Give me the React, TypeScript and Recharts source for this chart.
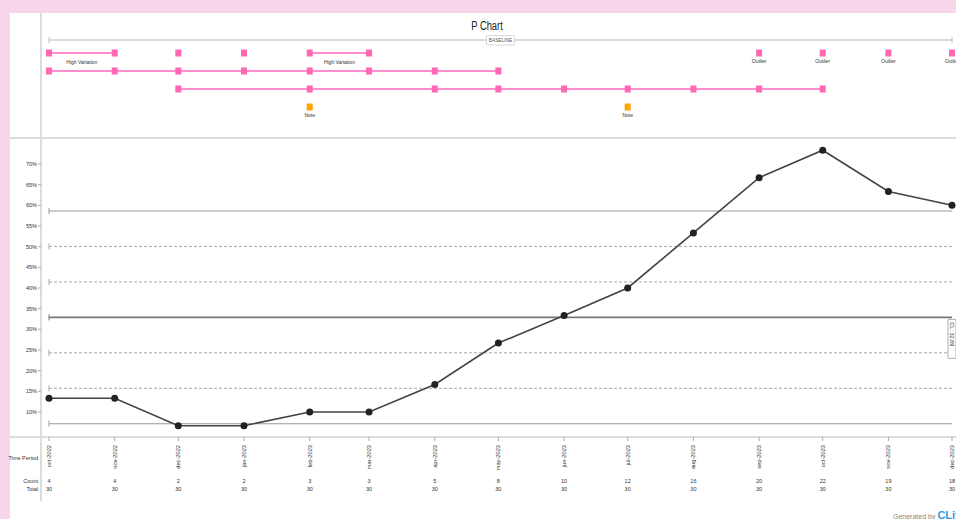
import React from 'react'
import { ComposedChart, Line, Scatter, XAxis, YAxis, ReferenceLine } from 'recharts'

// time periods of the P chart (monthly samples)
const periods = [
  'oct-2022', 'nov-2022', 'dec-2022', 'jan-2023', 'feb-2023', 'mar-2023', 'apr-2023', 'may-2023',
  'jun-2023', 'jul-2023', 'aug-2023', 'sep-2023', 'oct-2023', 'nov-2023', 'dec-2023',
]
const periodStarts = [
  '2022-10-01', '2022-11-01', '2022-12-01', '2023-01-01', '2023-02-01', '2023-03-01', '2023-04-01',
  '2023-05-01', '2023-06-01', '2023-07-01', '2023-08-01', '2023-09-01', '2023-10-01', '2023-11-01',
  '2023-12-01',
]
const counts = [4, 4, 2, 2, 3, 3, 5, 8, 10, 12, 16, 20, 22, 19, 18]
const totals = [30, 30, 30, 30, 30, 30, 30, 30, 30, 30, 30, 30, 30, 30, 30]
const proportions = [13.33, 13.33, 6.67, 6.67, 10, 10, 16.67, 26.67, 33.33, 40, 53.33, 66.67, 73.33, 63.33, 60]

const yTicks = [10, 15, 20, 25, 30, 35, 40, 45, 50, 55, 60, 65, 70]

const centerLine = 32.89
const limitLines = [58.62, 7.16]
const sigmaLines = [50.05, 41.47, 24.31, 15.73]

// annotation rows above the chart
const row1Markers = ['oct-2022', 'nov-2022', 'dec-2022', 'jan-2023', 'feb-2023', 'mar-2023']
const outlierMarkers = ['sep-2023', 'oct-2023', 'nov-2023', 'dec-2023']
const row2Markers = ['oct-2022', 'nov-2022', 'dec-2022', 'jan-2023', 'feb-2023', 'mar-2023', 'apr-2023', 'may-2023']
const row3Markers = ['dec-2022', 'feb-2023', 'apr-2023', 'may-2023', 'jun-2023', 'jul-2023', 'aug-2023', 'sep-2023', 'oct-2023']
const noteMarkers = ['feb-2023', 'jul-2023']
const annotationSegments = [
  { row: 1, from: 'oct-2022', to: 'nov-2022', label: 'High Variation' },
  { row: 1, from: 'feb-2023', to: 'mar-2023', label: 'High Variation' },
  { row: 2, from: 'oct-2022', to: 'may-2023', label: '' },
  { row: 3, from: 'dec-2022', to: 'oct-2023', label: '' },
]
const baselineRow = 0.28

const FONT = "'Liberation Sans', Arial, sans-serif"
const PINK = '#ff69b4'
const PINK_LINE = '#ff8fcc'
const ORANGE = '#ffa500'

const times = periodStarts.map((d) => Date.parse(d))
const timeOf = (p: string) => times[periods.indexOf(p)]
const first = times[0]
const last = times[times.length - 1]

const chartData = periods.map((period, i) => ({
  x: times[i],
  period,
  p: proportions[i],
  count: counts[i],
  total: totals[i],
}))

const markers = (list: string[], row: number) => list.map((p) => ({ x: timeOf(p), y: row }))

function PeriodTick(props: any) {
  const { x, y, index } = props
  const i = index as number
  const top = y + 2
  return (
    <g fontFamily={FONT} fill="#333">
      <text
        x={x}
        y={top}
        transform={`rotate(-90, ${x}, ${top})`}
        textAnchor="end"
        dy="0.35em"
        fontSize={5.7}
      >
        {periods[i]}
      </text>
      <text x={x} y={y + 40} textAnchor="middle" fontSize={5.5}>{counts[i]}</text>
      <text x={x} y={y + 48} textAnchor="middle" fontSize={5.5}>{totals[i]}</text>
      {i === 0 && (
        <g textAnchor="end" fontSize={5.5}>
          <text x={x - 11} y={y + 17}>Time Period</text>
          <text x={x - 11} y={y + 40}>Count</text>
          <text x={x - 11} y={y + 48}>Total</text>
        </g>
      )}
    </g>
  )
}

function ControlShape(props: any) {
  const { x1, y1, x2, y2, stroke, strokeWidth, strokeDasharray, label } = props
  return (
    <g>
      <line x1={x1} y1={y1} x2={x2} y2={y2} stroke={stroke} strokeWidth={strokeWidth} strokeDasharray={strokeDasharray} />
      <line x1={x1} y1={y1 - 3} x2={x1} y2={y1 + 3} stroke={stroke} strokeWidth={1} />
      {label && (
        <g>
          <rect x={x2 - 4} y={y1 + 2} width={8} height={39} fill="#fff" stroke="#888" strokeWidth={0.7} rx={1} />
          <text
            x={x2}
            y={y1 + 5}
            transform={`rotate(90, ${x2}, ${y1 + 5})`}
            dy="0.35em"
            fontSize={5.5}
            fontFamily={FONT}
            fill="#333"
          >
            {label}
          </text>
        </g>
      )}
    </g>
  )
}

function SegmentShape(props: any) {
  const { x1, y1, x2, y2, label } = props
  return (
    <g>
      <line x1={x1} y1={y1} x2={x2} y2={y2} stroke={PINK_LINE} strokeWidth={2} />
      {label && (
        <text x={(x1 + x2) / 2} y={y1 + 11} textAnchor="middle" fontSize={5} fontFamily={FONT} fill="#333">
          {label}
        </text>
      )}
    </g>
  )
}

function BaselineShape(props: any) {
  const { x1, y1, x2, y2 } = props
  const cx = (x1 + x2) / 2
  return (
    <g>
      <line x1={x1} y1={y1} x2={x2} y2={y2} stroke="#cfcfcf" strokeWidth={1.5} />
      <line x1={x1} y1={y1 - 3} x2={x1} y2={y1 + 3} stroke="#bbb" strokeWidth={1} />
      <line x1={x2} y1={y1 - 3} x2={x2} y2={y1 + 3} stroke="#bbb" strokeWidth={1} />
      <rect x={cx - 14} y={y1 - 4.5} width={28} height={9.5} fill="#fff" stroke="#ccc" strokeWidth={0.8} rx={1} />
      <text x={cx} y={y1} dy="0.35em" textAnchor="middle" fontSize={4.8} fontFamily={FONT} fill="#555">
        BASELINE
      </text>
    </g>
  )
}

const square = (color: string, label?: string) => (props: any) => {
  const { cx, cy } = props
  return (
    <g>
      <rect x={cx - 3} y={cy - 3.5} width={6} height={7} fill={color} />
      {label && (
        <text x={cx} y={cy + 10} textAnchor="middle" fontSize={5} fontFamily={FONT} fill="#333">
          {label}
        </text>
      )}
    </g>
  )
}

export default function App() {
  return (
    <div
      style={{
        position: 'fixed',
        left: 0,
        top: 0,
        width: 956,
        height: 519,
        overflow: 'hidden',
        background: '#f8d6ea',
        fontFamily: FONT,
      }}
    >
      <div style={{ position: 'absolute', left: 10, top: 13, right: 0, bottom: 0, background: '#fff' }} />
      <div style={{ position: 'absolute', left: 40, top: 13, width: 1.5, height: 488, background: '#dcdcdc' }} />
      <div style={{ position: 'absolute', left: 10, top: 137, right: 0, height: 1.5, background: '#dcdcdc' }} />
      <div style={{ position: 'absolute', left: 10, top: 436, right: 0, height: 1.5, background: '#dcdcdc' }} />
      <div
        style={{
          position: 'absolute',
          left: 437,
          top: 19,
          width: 100,
          textAlign: 'center',
          fontSize: 12,
          color: '#222',
          transform: 'scaleX(0.78)',
        }}
      >
        P Chart
      </div>

      <div style={{ position: 'absolute', left: 0, top: 0 }}>
        <ComposedChart width={956} height={138} margin={{ top: 44, right: 0, bottom: 22, left: 41 }}>
          <XAxis type="number" dataKey="x" domain={[first, last]} padding={{ left: 8, right: 4 }} hide />
          <YAxis type="number" dataKey="y" domain={[0.5, 4.5]} reversed hide />
          <ReferenceLine
            segment={[{ x: first, y: baselineRow }, { x: last, y: baselineRow }]}
            ifOverflow="visible"
            shape={(p: any) => <BaselineShape {...p} />}
          />
          {annotationSegments.map((s, i) => (
            <ReferenceLine
              key={`seg-${i}`}
              segment={[{ x: timeOf(s.from), y: s.row }, { x: timeOf(s.to), y: s.row }]}
              ifOverflow="visible"
              shape={(p: any) => <SegmentShape {...p} label={s.label} />}
            />
          ))}
          <Scatter data={markers(row1Markers, 1)} shape={square(PINK)} isAnimationActive={false} />
          <Scatter data={markers(outlierMarkers, 1)} shape={square(PINK, 'Outlier')} isAnimationActive={false} />
          <Scatter data={markers(row2Markers, 2)} shape={square(PINK)} isAnimationActive={false} />
          <Scatter data={markers(row3Markers, 3)} shape={square(PINK)} isAnimationActive={false} />
          <Scatter data={markers(noteMarkers, 4)} shape={square(ORANGE, 'Note')} isAnimationActive={false} />
        </ComposedChart>
      </div>

      <div style={{ position: 'absolute', left: 0, top: 0 }}>
        <ComposedChart width={956} height={519} data={chartData} margin={{ top: 140, right: 0, bottom: 0, left: 0 }}>
          <XAxis
            type="number"
            dataKey="x"
            domain={[first, last]}
            ticks={times}
            interval={0}
            padding={{ left: 8, right: 4 }}
            height={82}
            axisLine={false}
            tickLine={{ stroke: '#aaa' }}
            tickSize={4}
            tick={(p: any) => <PeriodTick {...p} />}
          />
          <YAxis
            type="number"
            domain={[3.95, 75.8]}
            ticks={yTicks}
            width={41}
            axisLine={false}
            tickLine={{ stroke: '#aaa' }}
            tickSize={3}
            tickMargin={1}
            tick={{ fontSize: 5.5, fill: '#333', fontFamily: FONT }}
            tickFormatter={(v: number) => `${v}%`}
          />
          {limitLines.map((v) => (
            <ReferenceLine
              key={`lim-${v}`}
              segment={[{ x: first, y: v }, { x: last, y: v }]}
              stroke="#9a9a9a"
              strokeWidth={1.2}
              ifOverflow="visible"
              shape={(p: any) => <ControlShape {...p} />}
            />
          ))}
          {sigmaLines.map((v) => (
            <ReferenceLine
              key={`sig-${v}`}
              segment={[{ x: first, y: v }, { x: last, y: v }]}
              stroke="#a8a8a8"
              strokeWidth={1}
              strokeDasharray="3 2"
              ifOverflow="visible"
              shape={(p: any) => <ControlShape {...p} />}
            />
          ))}
          <ReferenceLine
            segment={[{ x: first, y: centerLine }, { x: last, y: centerLine }]}
            stroke="#777"
            strokeWidth={1.6}
            ifOverflow="visible"
            shape={(p: any) => <ControlShape {...p} label={`CL: ${centerLine}`} />}
          />
          <Line
            dataKey="p"
            stroke="#444"
            strokeWidth={1.6}
            dot={{ r: 3.5, fill: '#222', stroke: '#222', strokeWidth: 0 }}
            isAnimationActive={false}
          />
        </ComposedChart>
      </div>

      <div
        style={{
          position: 'absolute',
          left: 893,
          top: 509,
          whiteSpace: 'nowrap',
          fontSize: 7,
          color: '#888',
          fontFamily: FONT,
        }}
      >
        Generated by{' '}
        <span style={{ color: '#2d9be0', fontSize: 11, fontWeight: 700 }}>CLife</span>
      </div>
    </div>
  )
}
